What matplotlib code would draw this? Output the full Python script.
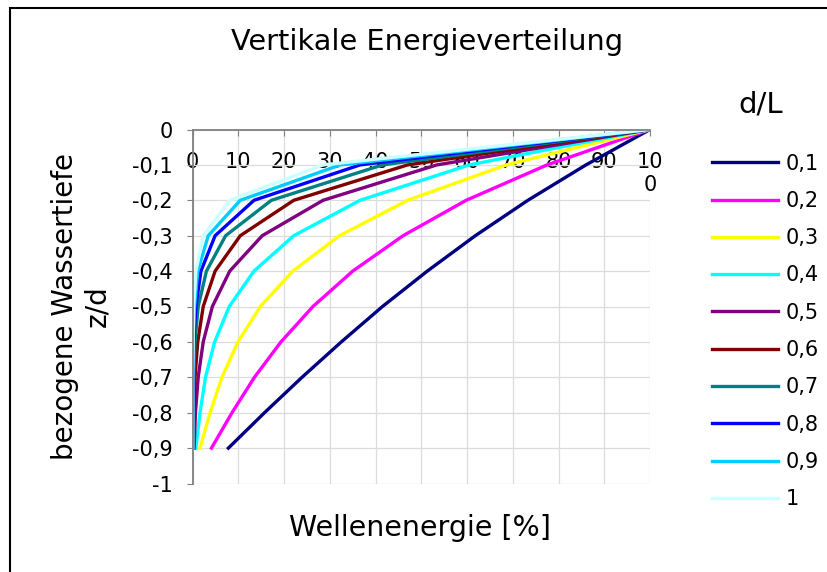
import matplotlib
matplotlib.use("Agg")
import matplotlib.pyplot as plt
from matplotlib.patches import Rectangle

plt.rcParams['font.family'] = ['DejaVu Sans']

# bezogene Wassertiefe z/d
z = [0, -0.1, -0.2, -0.3, -0.4, -0.5, -0.6, -0.7, -0.8, -0.9]

# Wellenenergie [%] oberhalb von z, je d/L
e01 = [100, 86.0, 73.3, 61.8, 51.3, 41.5, 32.5, 23.9, 15.7, 7.8]
e02 = [100, 77.5, 59.8, 46.0, 35.0, 26.3, 19.3, 13.5, 8.6, 4.1]
e03 = [100, 68.6, 47.0, 32.1, 21.9, 14.8, 9.9, 6.4, 3.8, 1.6]
e04 = [100, 60.5, 36.6, 22.1, 13.4, 8.0, 4.8, 2.8, 1.6, 0.7]
e05 = [100, 53.4, 28.5, 15.2, 8.1, 4.3, 2.3, 1.2, 0.6, 0.3]
e06 = [100, 47.0, 22.1, 10.4, 4.9, 2.3, 1.1, 0.5, 0.2, 0.1]
e07 = [100, 41.5, 17.2, 7.2, 3.0, 1.2, 0.5, 0.2, 0.1, 0.0]
e08 = [100, 36.6, 13.4, 4.9, 1.8, 0.7, 0.2, 0.1, 0.0, 0.0]
e09 = [100, 32.3, 10.4, 3.4, 1.1, 0.4, 0.1, 0.0, 0.0, 0.0]
e10 = [100, 28.5, 8.1, 2.3, 0.7, 0.2, 0.1, 0.0, 0.0, 0.0]

series = [e01, e02, e03, e04, e05, e06, e07, e08, e09, e10]
dl_labels = ["0,1", "0,2", "0,3", "0,4", "0,5", "0,6", "0,7", "0,8", "0,9", "1"]
colors = ["#000080", "#FF00FF", "#FFFF00", "#00FFFF", "#800080",
          "#800000", "#008080", "#0000FF", "#00CCFF", "#CCFFFF"]

x_ticks = [0, 10, 20, 30, 40, 50, 60, 70, 80, 90, 100]
x_labels = ["0", "10", "20", "30", "40", "50", "60", "70", "80", "90", "10\n0"]
y_ticks = [0, -0.1, -0.2, -0.3, -0.4, -0.5, -0.6, -0.7, -0.8, -0.9, -1]
y_labels = ["0", "-0,1", "-0,2", "-0,3", "-0,4", "-0,5", "-0,6", "-0,7", "-0,8", "-0,9", "-1"]

W, H = 828, 572
fig = plt.figure(figsize=(W / 100, H / 100), dpi=100)
ax = fig.add_axes([192.7 / W, 1 - 483.5 / H, (650 - 192.7) / W, (483.5 - 129.5) / H])

for vals, lab, col in zip(series, dl_labels, colors):
    ax.plot(vals, z, color=col, lw=2.4, label=lab)

ax.set_xlim(0, 100)
ax.set_ylim(-1, 0)
ax.set_xticks(x_ticks)
ax.set_xticklabels(x_labels)
ax.set_yticks(y_ticks)
ax.set_yticklabels(y_labels)
for t in ax.get_xticklabels():
    t.set_linespacing(1.35)

ax.spines['bottom'].set_position(('data', 0))
ax.spines['top'].set_visible(False)
ax.spines['right'].set_visible(False)
for s in ('left', 'bottom'):
    ax.spines[s].set_color('#808080')
    ax.spines[s].set_linewidth(1.3)

ax.grid(color='#dcdcdc', lw=0.9)
ax.set_axisbelow(True)
ax.tick_params(axis='x', direction='out', length=4, color='#808080', pad=12, labelsize=15)
ax.tick_params(axis='y', direction='out', length=4.5, color='#808080', pad=10, labelsize=15)

ax.legend(loc='upper left', bbox_to_anchor=(711.7 / W, 1 - 153.5 / H),
          bbox_transform=fig.transFigure, frameon=False, fontsize=15,
          handlelength=3.2, handletextpad=0.35, labelspacing=0.83,
          borderpad=0, borderaxespad=0)

fig.text(427 / W, 1 - 50 / H, "Vertikale Energieverteilung", ha='center', va='baseline', fontsize=20.7)
fig.text(761 / W, 1 - 113 / H, "d/L", ha='center', va='baseline', fontsize=21)
fig.text(420 / W, 1 - 536 / H, "Wellenenergie [%]", ha='center', va='baseline', fontsize=20.5)
fig.text(81 / W, 1 - 306 / H, "bezogene Wassertiefe\nz/d", rotation=90, ha='center',
         va='center', fontsize=20, linespacing=1.2, multialignment='center')

fig.add_artist(Rectangle((10 / W, -0.5), 2, 1.5 - 8 / H, transform=fig.transFigure,
                         fill=False, ec='black', lw=1.5))

fig.savefig("out.png", dpi=100)
